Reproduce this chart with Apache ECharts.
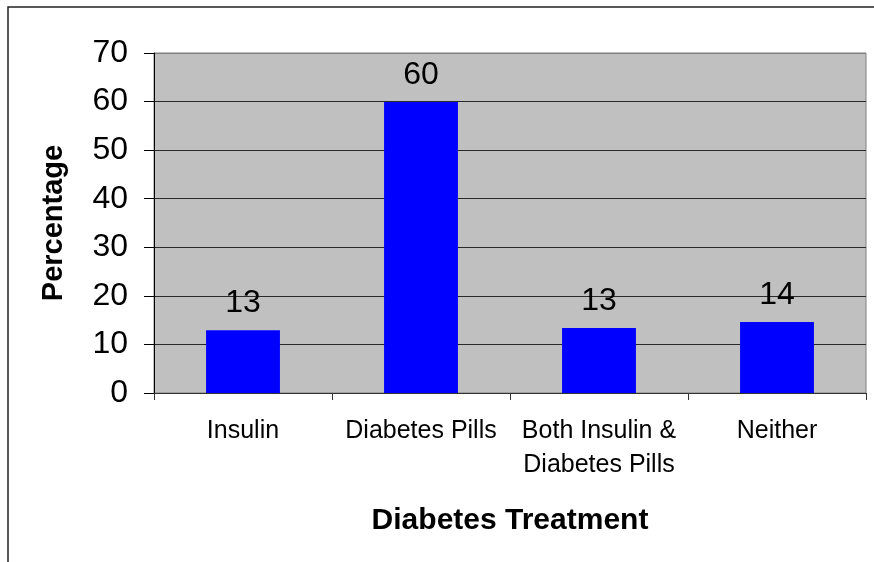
<!DOCTYPE html>
<html>
<head>
<meta charset="utf-8">
<style>
  html, body { margin: 0; padding: 0; background: #fff; }
  #chart { width: 874px; height: 562px; }
</style>
<script src="https://cdn.jsdelivr.net/npm/echarts@6/dist/echarts.min.js"></script>
</head>
<body>
<div id="chart"></div>
<script>
// chart data
const categories = ['Insulin', 'Diabetes Pills', 'Both Insulin &\nDiabetes Pills', 'Neither'];
const percentages = [12.9, 59.9, 13.4, 14.6];
const barLabels = ['13', '60', '13', '14'];
const yTicks = { min: 0, max: 70, interval: 10 };

const FONT = '"Liberation Sans", Arial, sans-serif';

const chart = echarts.init(document.getElementById('chart'), null, { renderer: 'canvas' });

// split lines: 0..60 dark, top one (70) is the grey plot border
const splitColors = [];
for (let v = yTicks.min; v <= yTicks.max; v += yTicks.interval) {
  splitColors.push(v === yTicks.max ? '#808080' : '#2a2a2a');
}

chart.setOption({
  animation: false,
  backgroundColor: '#fff',
  graphic: [{
    type: 'rect',
    shape: { x: 8, y: 7, width: 1000, height: 1000 },
    style: { fill: null, stroke: '#222', lineWidth: 1.5 },
    silent: true,
    z: 100
  }],
  grid: {
    left: 154, top: 53, right: 8, bottom: 169,
    show: true,
    backgroundColor: '#C0C0C0',
    borderColor: '#808080',
    borderWidth: 1
  },
  xAxis: {
    type: 'category',
    data: categories,
    name: 'Diabetes Treatment',
    nameLocation: 'middle',
    nameGap: 113,
    nameTextStyle: { fontFamily: FONT, fontSize: 30, fontWeight: 'bold', color: '#000' },
    axisLine: { lineStyle: { color: '#333', width: 1 } },
    axisTick: { show: true, length: 7, lineStyle: { color: '#333' } },
    axisLabel: {
      interval: 0,
      margin: 21,
      fontFamily: FONT,
      fontSize: 25,
      lineHeight: 34,
      color: '#000'
    }
  },
  yAxis: {
    type: 'value',
    min: yTicks.min,
    max: yTicks.max,
    interval: yTicks.interval,
    name: 'Percentage',
    nameLocation: 'middle',
    nameGap: 86,
    nameRotate: 90,
    nameTextStyle: { fontFamily: FONT, fontSize: 29, fontWeight: 'bold', color: '#000' },
    axisLine: { show: true, lineStyle: { color: '#000', width: 1 } },
    axisTick: { show: true, length: 10, lineStyle: { color: '#000' } },
    axisLabel: { margin: 26, fontFamily: FONT, fontSize: 32, color: '#000' },
    splitLine: { show: true, lineStyle: { color: splitColors, width: 1 } }
  },
  series: [{
    type: 'bar',
    data: percentages,
    barWidth: '41.5%',
    itemStyle: { color: '#0000FF' },
    label: {
      show: true,
      position: 'top',
      distance: 11,
      fontFamily: FONT,
      fontSize: 32,
      color: '#000',
      formatter: p => barLabels[p.dataIndex]
    }
  }]
});
</script>
</body>
</html>
